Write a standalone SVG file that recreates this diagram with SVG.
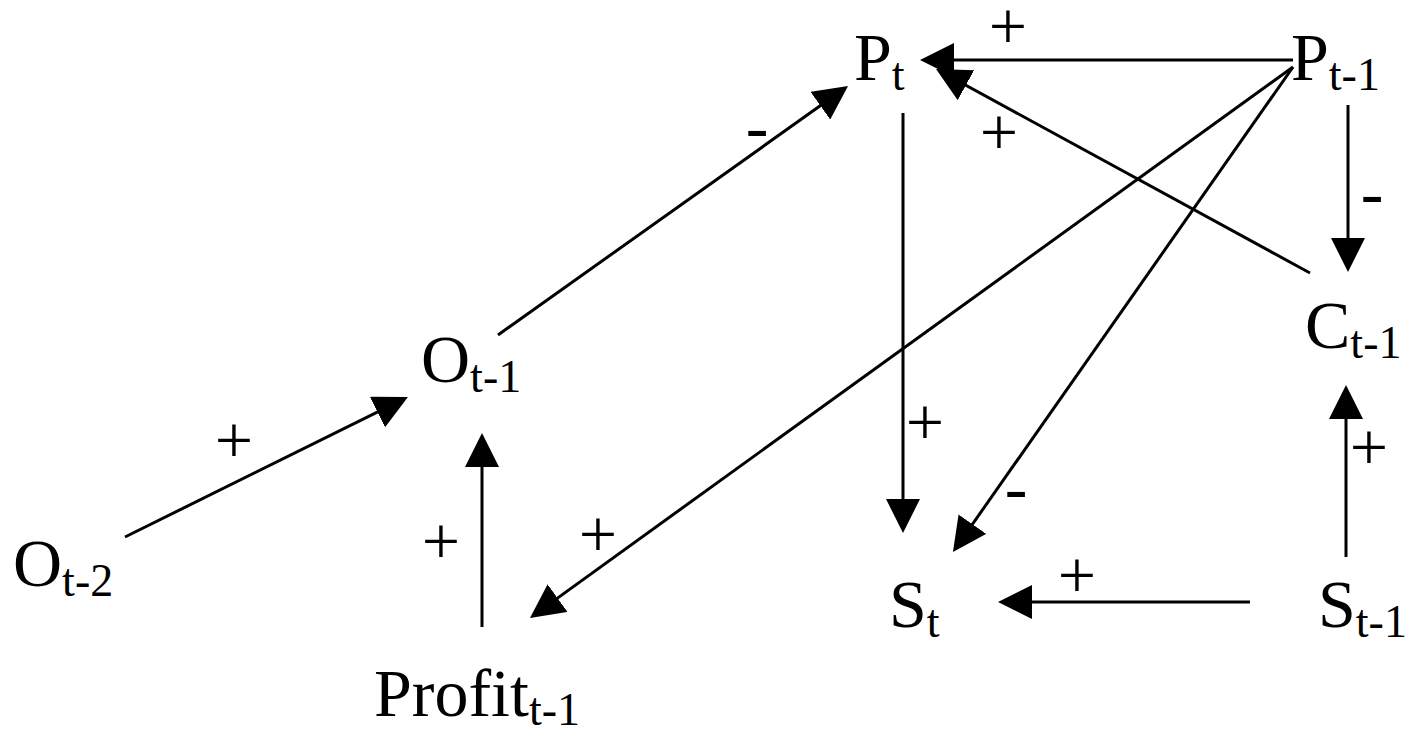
<svg xmlns="http://www.w3.org/2000/svg" width="1422" height="729" viewBox="0 0 1422 729">
<style>
.n{font-family:"Liberation Serif","Times New Roman",serif;font-size:68px;fill:#000}
.s{font-size:46px}
.l{font-family:"Liberation Serif","Times New Roman",serif;font-size:68px;fill:#000;text-anchor:middle}
.c line{stroke:#000;stroke-width:3;fill:none;marker-end:url(#ah)}
</style>
<defs>
<marker id="ah" markerUnits="userSpaceOnUse" markerWidth="34" markerHeight="34" viewBox="0 0 34 34" refX="24" refY="17" orient="auto">
<path d="M0,0 L34,17 L0,34 z" fill="#000"/>
</marker>
</defs>
<rect width="1422" height="729" fill="#fff"/>
<g class="c" id="connectors">
<line x1="125" y1="537" x2="399" y2="401.4"/>
<line x1="482" y1="627" x2="482" y2="443"/>
<line x1="498" y1="335" x2="839.9" y2="91.8"/>
<line x1="1293" y1="60" x2="930" y2="60"/>
<line x1="1310" y1="273" x2="944.8" y2="73.8"/>
<line x1="1293" y1="67" x2="538.1" y2="612.1"/>
<line x1="1293" y1="67" x2="958.7" y2="543.8"/>
<line x1="903" y1="113" x2="903" y2="523"/>
<line x1="1348" y1="105" x2="1348" y2="262"/>
<line x1="1346" y1="557" x2="1346" y2="395"/>
<line x1="1250" y1="602" x2="1008" y2="602"/>
</g>
<g id="labels">
<text class="l" x="1008" y="49">+</text>
<text class="l" x="999" y="155">+</text>
<text class="l" x="925" y="445">+</text>
<text class="l" x="1369" y="470">+</text>
<text class="l" x="1077" y="598">+</text>
<text class="l" x="598" y="557">+</text>
<text class="l" x="441" y="564">+</text>
<text class="l" x="234" y="463">+</text>
<text class="l" x="757" y="149">-</text>
<text class="l" x="1016" y="510">-</text>
<text class="l" x="1372" y="215">-</text>
</g>
<g id="node-Pt"><text class="n" x="854" y="80">P<tspan class="s" dy="10">t</tspan></text></g>
<g id="node-Pt-1"><text class="n" x="1291" y="80">P<tspan class="s" dy="10">t-1</tspan></text></g>
<g id="node-Ct-1"><text class="n" x="1305" y="348">C<tspan class="s" dy="10">t-1</tspan></text></g>
<g id="node-St"><text class="n" x="889" y="627">S<tspan class="s" dy="10">t</tspan></text></g>
<g id="node-St-1"><text class="n" x="1318" y="627">S<tspan class="s" dy="10">t-1</tspan></text></g>
<g id="node-Ot-1"><text class="n" x="421" y="382">O<tspan class="s" dy="10">t-1</tspan></text></g>
<g id="node-Ot-2"><text class="n" x="13" y="586">O<tspan class="s" dy="10">t-2</tspan></text></g>
<g id="node-Profit"><text class="n" x="374" y="716">Profit<tspan class="s" dy="9">t-1</tspan></text></g>
</svg>
